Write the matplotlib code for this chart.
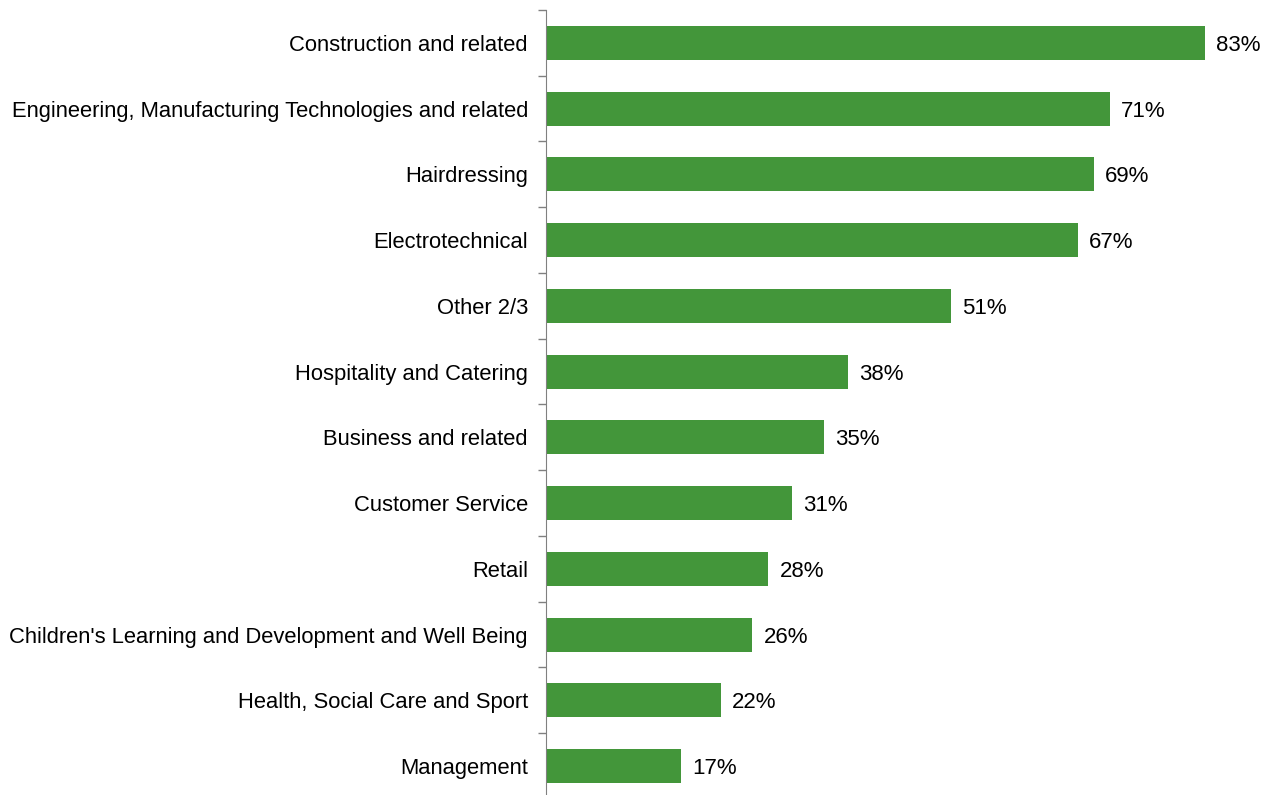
import matplotlib.pyplot as plt
import numpy as np

plt.rcParams['font.family'] = ['Liberation Sans', 'DejaVu Sans']

categorias = ['Construction and related',
              'Engineering, Manufacturing Technologies and related',
              'Hairdressing',
              'Electrotechnical',
              'Other 2/3',
              'Hospitality and Catering',
              'Business and related',
              'Customer Service',
              'Retail',
              "Children's Learning and Development and Well Being",
              'Health, Social Care and Sport',
              'Management']
valores = [83, 71, 69, 67, 51, 38, 35, 31, 28, 26, 22, 17]

VERDE = '#43963a'
CINZA = '#808080'

fig = plt.figure(figsize=(12.72, 7.95), dpi=100)
ax = fig.add_axes([546 / 1272, -0.005, 1 - 546 / 1272, 1 - 10 / 795 + 0.005])

y = np.arange(len(categorias))
ax.barh(y, valores, height=0.52, color=VERDE)

for yi, v in zip(y, valores):
    ax.text(v + 1.4, yi, f'{v}%', va='center_baseline', ha='left',
            fontsize=16)

ax.set_ylim(len(categorias) - 0.5, -0.5)
ax.set_xlim(0, 726 / 7.94)

# ticks nas fronteiras, rótulos no centro
ax.set_yticks(np.arange(-0.5, len(categorias) + 0.5, 1))
ax.set_yticklabels([])
ax.tick_params(axis='y', which='major', length=6, color=CINZA, width=1)
ax.set_yticks(y, minor=True)
ax.set_yticklabels(categorias, minor=True, fontsize=15.8)
ax.tick_params(axis='y', which='minor', length=0, pad=13)

ax.set_xticks([])
for lado in ('top', 'right', 'bottom'):
    ax.spines[lado].set_visible(False)
ax.spines['left'].set_color(CINZA)

fig.savefig('out.png', dpi=100)
